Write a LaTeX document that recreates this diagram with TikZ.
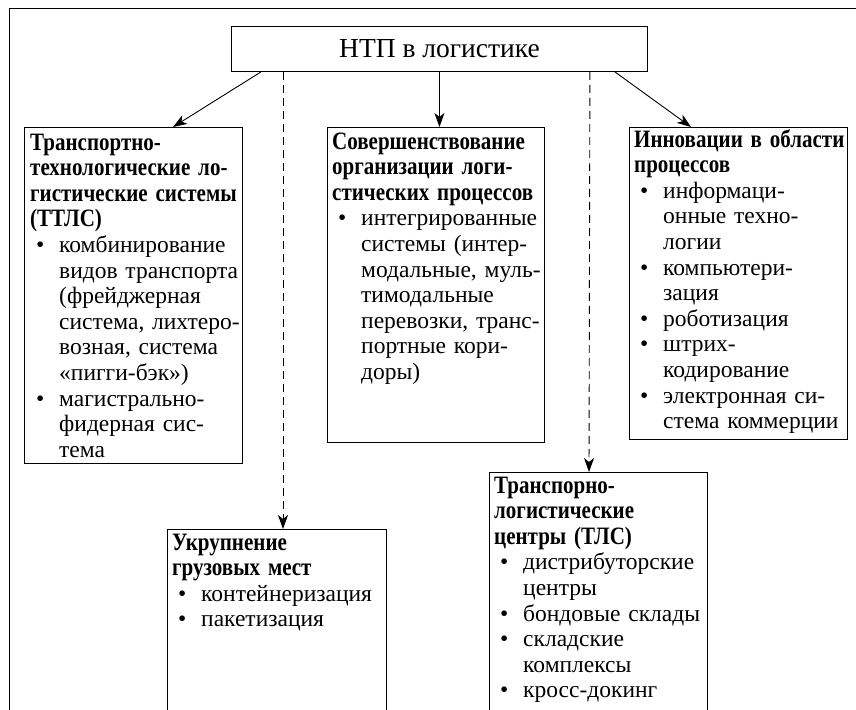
\documentclass[tikz,border=0pt]{standalone}
\usepackage{fontspec}
\setmainfont{Liberation Serif}
\newfontfamily\hdfont{Liberation Serif}[FakeStretch=0.84]
\usetikzlibrary{positioning,arrows.meta}

\newcommand\bul{\makebox[29pt][l]{\hspace{6pt}\textbullet}}
\newcommand\cnt{\hspace*{29pt}}
\newcommand\hd[1]{{\fontsize{25}{25.6}\hdfont\bfseries #1}}

\begin{document}
\begin{tikzpicture}[x=1pt, y=-1pt,
  box/.style={draw, line width=0.9pt, rectangle, anchor=north west, inner sep=0pt},
  txt/.style={inner sep=0pt, text width=216pt, align=left, font=\fontsize{23.5}{25.6}\selectfont},
  arr/.style={-{Stealth[length=14pt,width=10pt,inset=4pt]}, line width=0.9pt},
  dasharr/.style={arr, dash pattern=on 8pt off 5pt}]
\useasboundingbox (0,0) rectangle (856,709);
\clip (0,0) rectangle (856,709);
\draw[line width=0.9pt] (9,730) -- (9,8) -- (880,8);

\node[box, minimum width=416pt, minimum height=45pt, font=\fontsize{27.5}{30}\selectfont] (ntp) at (231,26) {НТП в логистике};

\node[box, minimum width=218pt, minimum height=336pt] (ttls) at (24,127) {};
\node[box, minimum width=217pt, minimum height=315pt] (sov) at (327,127) {};
\node[box, minimum width=218pt, minimum height=312pt] (innov) at (629,127) {};
\node[box, minimum width=219pt, minimum height=240pt] (ukr) at (167,529) {};
\node[box, minimum width=218pt, minimum height=300pt] (tlc) at (489,472) {};

\node[txt, below right=5pt and 6pt of ttls.north west] (ttls-t) {\strut\hd{Транспортно-}\\
\hd{технологические ло-}\\
\hd{гистические системы}\\
\hd{(ТТЛС)}\\
\bul комбинирование\\
\cnt видов транспорта\\
\cnt (фрейджерная\\
\cnt система, лихтеро-\\
\cnt возная, система\\
\cnt «пигги-бэк»)\\
\bul магистрально-\\
\cnt фидерная сис-\\
\cnt тема};

\node[txt, below right=4pt and 5pt of sov.north west] (sov-t) {\strut\hd{Совершенствование}\\
\hd{организации логи-}\\
\hd{стических процессов}\\
\bul интегрированные\\
\cnt системы (интер-\\
\cnt модальные, муль-\\
\cnt тимодальные\\
\cnt перевозки, транс-\\
\cnt портные кори-\\
\cnt доры)};

\node[txt, below right=2pt and 5pt of innov.north west] (innov-t) {\strut\hd{Инновации в области}\\
\hd{процессов}\\
\bul информаци-\\
\cnt онные техно-\\
\cnt логии\\
\bul компьютери-\\
\cnt зация\\
\bul роботизация\\
\bul штрих-\\
\cnt кодирование\\
\bul электронная си-\\
\cnt стема коммерции};

\node[txt, below right=3pt and 5pt of ukr.north west] (ukr-t) {\strut\hd{Укрупнение}\\
\hd{грузовых мест}\\
\bul контейнеризация\\
\bul пакетизация};

\node[txt, below right=3pt and 5pt of tlc.north west] (tlc-t) {\strut\hd{Транспорно-}\\
\hd{логистические}\\
\hd{центры (ТЛС)}\\
\bul дистрибуторские\\
\cnt центры\\
\bul бондовые склады\\
\bul складские\\
\cnt комплексы\\
\bul кросс-докинг};

\draw[arr] ([xshift=30pt]ntp.south west) -- ([xshift=149pt]ttls.north west);
\draw[arr] (ntp.south) -- (ntp.south |- sov.north);
\draw[arr] ([xshift=-33pt]ntp.south east) -- ([xshift=62pt]innov.north west);
\draw[dasharr] ([xshift=52pt]ntp.south west) -- ([xshift=116pt]ukr.north west);
\draw[dasharr] ([xshift=-58pt]ntp.south east) -- ([xshift=100pt]tlc.north west);
\end{tikzpicture}
\end{document}
